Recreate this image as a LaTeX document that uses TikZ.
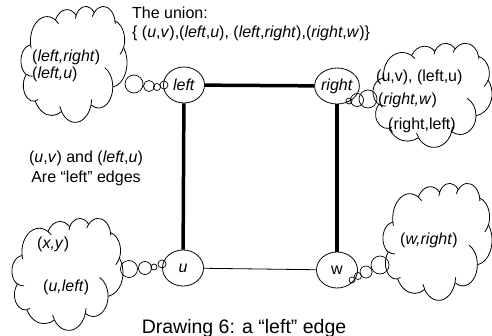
\documentclass[tikz,border=0pt]{standalone}
\usepackage{fontspec}
\setmainfont{Liberation Sans}
\usetikzlibrary{shapes.geometric}

% Office-style cloud outline on a 43.2 x 43.2 grid; arcs are given by
% radii and visual start/sweep angles, converted to parametric angles by vp().
\newcommand\oarc[4]{arc[start angle={vp(#3,#1,#2)}, end angle={vp(#3+#4,#1,#2)},
  x radius=#1, y radius=#2]}
\newcommand\thoughtcloud[4]{%
\begin{scope}[shift={(#1,#2)}, xscale=#3/43.2, yscale=#4/43.2]
  \draw[cloudline, fill=white] (3.9,14.37)
    \oarc{6.753}{9.19}{-190.4875}{123.7805}
    \oarc{5.333}{7.267}{-144.1024}{89.9452}
    \oarc{4.365}{5.945}{-145.8079}{99.7230}
    \oarc{4.857}{6.595}{-130.9861}{117.2417}
    \oarc{5.333}{7.273}{-78.7089}{109.0269}
    \oarc{6.775}{9.22}{-46.2673}{130.2690}
    \oarc{5.785}{7.867}{0.6250}{114.0333}
    \oarc{6.752}{9.215}{22.4516}{115.1726}
    \oarc{7.72}{10.543}{66.2426}{75.7110}
    \oarc{4.36}{5.918}{-274.9421}{146.7356}
    \oarc{4.345}{5.945}{-246.8285}{152.5189} -- cycle;
  \draw[cloudline]
    (4.693,26.177) \oarc{4.345}{5.945}{86.7420}{26.4295}
    (6.928,34.899) \oarc{4.36}{5.918}{73.6105}{11.4475}
    (16.478,39.09) \oarc{6.752}{9.215}{137.6242}{14.0811}
    (28.827,34.751) \oarc{6.752}{9.215}{6.4533}{15.9984}
    (34.129,22.954) \oarc{5.785}{7.867}{-70.2924}{70.9174}
    (41.798,15.354) \oarc{5.333}{7.273}{30.3180}{27.7515}
    (38.324,5.426) \oarc{4.857}{6.595}{-13.7443}{14.8589}
    (29.078,3.952) \oarc{4.857}{6.595}{-149.1815}{18.1954}
    (22.141,4.72) \oarc{4.365}{5.945}{-163.4943}{17.6864}
    (14.0,5.192) \oarc{6.753}{9.19}{-66.7070}{12.3194}
    (4.127,15.789) \oarc{6.753}{9.19}{157.6544}{11.8582};
\end{scope}}

\begin{document}
\begin{tikzpicture}[x=1pt,y=-1pt,
  declare function={vp(\t,\a,\b)=\t+mod(atan2(\a*sin(\t),\b*cos(\t))-\t+540,360)-180;},
  txt/.style={inner sep=0pt, font=\fontsize{16}{19}\selectfont},
  vertex/.style={draw, ellipse, inner sep=0pt, minimum width=41pt, minimum height=36pt,
                 line width=0.8pt, font=\fontsize{16}{19}\selectfont},
  cloudline/.style={line width=0.8pt, line join=round},
  bubble/.style={draw, line width=0.7pt},
  heavy/.style={line width=3.5pt},
  light/.style={line width=0.8pt}]
\useasboundingbox (0,0) rectangle (492,335);

% thought clouds: left, top, width, height
\thoughtcloud{21}{6}{106}{116}
\thoughtcloud{373}{43}{119}{104}
\thoughtcloud{12}{218}{111}{112}
\thoughtcloud{383}{183}{109}{117}

% graph vertices
\node[vertex] (left)  at (184,85)  {\textit{left}};
\node[vertex] (right) at (337,86)  {\textit{right}};
\node[vertex] (u)     at (183,268) {\textit{u}};
\node[vertex] (w)     at (337,270) {w};

% edges
\draw[heavy] (left) -- (right);
\draw[heavy] (left) -- (u);
\draw[heavy] (right) -- (w);
\draw[light] (u) -- (w);

% thought bubbles
\draw[bubble] (134,84) circle (9);
\draw[bubble] (149,86) circle (5.5);
\draw[bubble] (157,87) circle (3.5);
\draw[bubble] (164,85) circle (4);

\draw[bubble] (368,99) circle (9);
\draw[bubble] (357,100) circle (6.5);
\draw[bubble] (349,101) circle (3);

\draw[bubble] (129,269) circle (8.5);
\draw[bubble] (145,268) circle (6.5);
\draw[bubble] (154,267) circle (3);
\draw[bubble] (162,264) circle (4);

\draw[bubble] (380,265) circle (9);
\draw[bubble] (366,272) circle (6);
\draw[bubble] (358,276) circle (3.5);
\draw[bubble] (352,280) circle (3);

% texts
\node[txt, anchor=west] (union) at (132,13) {The union:};
\node[txt, anchor=west] (set) at (132,33)
  {\{ (\textit{u},\textit{v}),(\textit{left},\textit{u}), (\textit{left},\textit{right}),(\textit{right},\textit{w})\}};

\node[txt, anchor=west] (tl1) at (32,57) {(\textit{left,right})};
\node[txt, anchor=west] (tl2) at (32,74) {(\textit{left,u})};

\node[txt, anchor=west] (tr1) at (376,77)  {(u,v), (left,u)};
\node[txt, anchor=west] (tr2) at (378,100) {(\textit{right,w})};
\node[txt, anchor=west] (tr3) at (388,125) {(right,left)};

\node[txt, align=center] (note) at (86,168)
  {(\textit{u},\textit{v}) and (\textit{left},\textit{u})\\[1pt] Are “left” edges};

\node[txt, anchor=west] (bl1) at (37,244) {(\textit{x,y})};
\node[txt, anchor=west] (bl2) at (43,287) {(\textit{u,left})};

\node[txt, anchor=west] (br1) at (400,240) {(\textit{w,right})};

\node[inner sep=0pt, anchor=base, font=\fontsize{19.5}{22}\selectfont] (caption) at (244,333)
  {Drawing 6: a “left” edge};
\end{tikzpicture}
\end{document}
